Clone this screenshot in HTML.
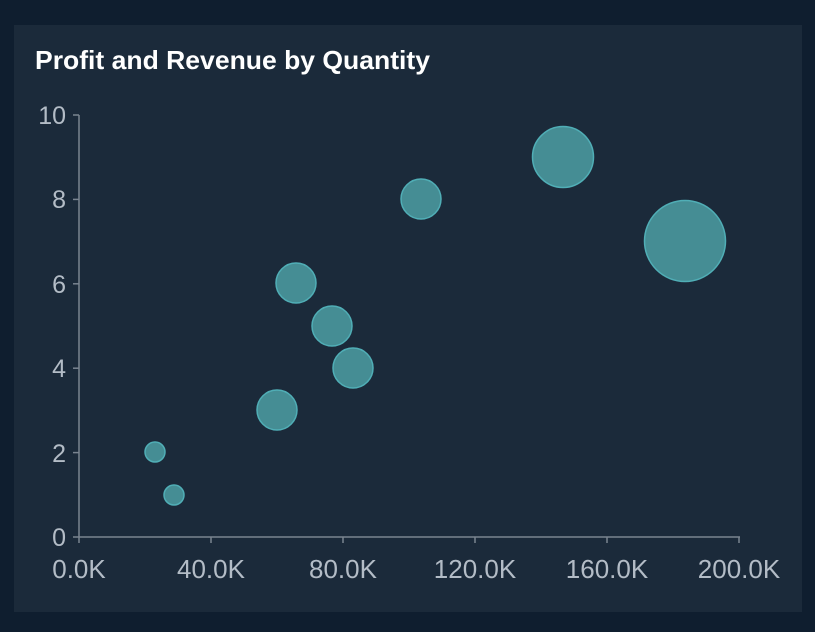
<!DOCTYPE html>
<html><head><style>
html,body{margin:0;padding:0;background:#0f1e2f;}
body{width:815px;height:632px;position:relative;overflow:hidden;font-family:"Liberation Sans",Arial,sans-serif;}
.panel{position:absolute;left:14px;top:25px;width:788px;height:587px;background:#1b2a3a;}
</style></head><body>
<div class="panel"></div>
<svg width="815" height="632" style="position:absolute;left:0;top:0">
<text x="35" y="69" fill="#ffffff" font-size="26" font-weight="bold" font-family="Liberation Sans, Arial, sans-serif" textLength="395" lengthAdjust="spacingAndGlyphs">Profit and Revenue by Quantity</text>
<g stroke="#7a8490" stroke-width="1.5" fill="none">
<line x1="79" y1="115" x2="79" y2="537"/>
<line x1="79" y1="537" x2="740" y2="537"/>
<line x1="73" y1="115" x2="79" y2="115"/>
<line x1="73" y1="199.4" x2="79" y2="199.4"/>
<line x1="73" y1="283.8" x2="79" y2="283.8"/>
<line x1="73" y1="368.2" x2="79" y2="368.2"/>
<line x1="73" y1="452.6" x2="79" y2="452.6"/>
<line x1="73" y1="537" x2="79" y2="537"/>
<line x1="79" y1="537" x2="79" y2="543"/>
<line x1="211" y1="537" x2="211" y2="543"/>
<line x1="343" y1="537" x2="343" y2="543"/>
<line x1="475" y1="537" x2="475" y2="543"/>
<line x1="607" y1="537" x2="607" y2="543"/>
<line x1="739" y1="537" x2="739" y2="543"/>
</g>
<g fill="#b3bcc6" font-size="25" font-family="Liberation Sans, Arial, sans-serif" text-anchor="end">
<text x="66" y="124">10</text>
<text x="66" y="208">8</text>
<text x="66" y="293">6</text>
<text x="66" y="377">4</text>
<text x="66" y="462">2</text>
<text x="66" y="546">0</text>
</g>
<g fill="#b3bcc6" font-size="26" font-family="Liberation Sans, Arial, sans-serif" text-anchor="middle">
<text x="79" y="578">0.0K</text>
<text x="211" y="578">40.0K</text>
<text x="343" y="578">80.0K</text>
<text x="475" y="578">120.0K</text>
<text x="607" y="578">160.0K</text>
<text x="739" y="578">200.0K</text>
</g>
<g fill="#458d94" stroke="#50aeb6" stroke-width="1.5">
<circle cx="155" cy="452" r="10"/>
<circle cx="174" cy="495" r="10"/>
<circle cx="277" cy="410" r="20"/>
<circle cx="296" cy="283" r="20"/>
<circle cx="332" cy="326" r="20"/>
<circle cx="353" cy="368" r="20"/>
<circle cx="421" cy="199" r="20"/>
<circle cx="563" cy="157" r="30.5"/>
<circle cx="685" cy="241" r="40.5"/>
</g>
</svg>
</body></html>
